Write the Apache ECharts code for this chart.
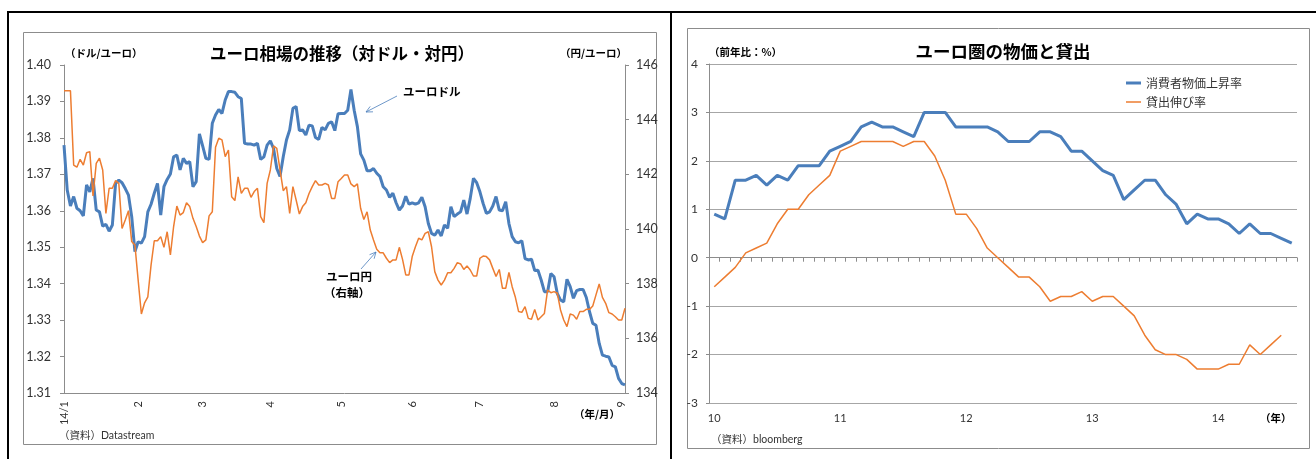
<!DOCTYPE html>
<html>
<head>
<meta charset="utf-8">
<script src="https://cdn.jsdelivr.net/npm/echarts@6/dist/echarts.min.js"></script>
<style>
html, body { margin: 0; padding: 0; background: #ffffff; }
#chart { width: 1316px; height: 459px; }
</style>
</head>
<body>
<div id="chart"></div>
<script>
// ---- Left panel: EUR/USD (left axis) and EUR/JPY (right axis), daily, 2014/1/1 - 2014/9/2
const usdRate = [
  1.3780, 1.3657, 1.3613, 1.3639, 1.3607, 1.3600, 1.3586, 1.3671, 1.3652, 1.3689,
  1.3602, 1.3597, 1.3558, 1.3563, 1.3544, 1.3561, 1.3675, 1.3684, 1.3677, 1.3661,
  1.3643, 1.3584, 1.3488, 1.3515, 1.3511, 1.3529, 1.3597, 1.3618, 1.3648, 1.3675,
  1.3588, 1.3666, 1.3686, 1.3701, 1.3748, 1.3753, 1.3712, 1.3744, 1.3730, 1.3735,
  1.3666, 1.3680, 1.3811, 1.3778, 1.3744, 1.3741, 1.3840, 1.3863, 1.3878, 1.3867,
  1.3904, 1.3927, 1.3927, 1.3925, 1.3913, 1.3908, 1.3785, 1.3783, 1.3783, 1.3780,
  1.3785, 1.3741, 1.3748, 1.3780, 1.3792, 1.3771, 1.3716, 1.3694, 1.3748, 1.3794,
  1.3822, 1.3881, 1.3886, 1.3820, 1.3822, 1.3808, 1.3835, 1.3833, 1.3801, 1.3796,
  1.3829, 1.3822, 1.3840, 1.3844, 1.3820, 1.3866, 1.3867, 1.3867, 1.3876, 1.3933,
  1.3876, 1.3831, 1.3756, 1.3739, 1.3710, 1.3710, 1.3716, 1.3703, 1.3694, 1.3666,
  1.3657, 1.3637, 1.3648, 1.3622, 1.3602, 1.3613, 1.3640, 1.3618, 1.3622, 1.3618,
  1.3622, 1.3637, 1.3611, 1.3565, 1.3538, 1.3533, 1.3547, 1.3531, 1.3561, 1.3552,
  1.3611, 1.3584, 1.3591, 1.3597, 1.3629, 1.3591, 1.3634, 1.3689, 1.3677, 1.3652,
  1.3620, 1.3593, 1.3597, 1.3613, 1.3639, 1.3602, 1.3600, 1.3625, 1.3565, 1.3529,
  1.3515, 1.3512, 1.3518, 1.3469, 1.3465, 1.3467, 1.3436, 1.3437, 1.3410, 1.3378,
  1.3378, 1.3428, 1.3419, 1.3373, 1.3355, 1.3350, 1.3412, 1.3392, 1.3360, 1.3381,
  1.3384, 1.3384, 1.3362, 1.3323, 1.3291, 1.3286, 1.3236, 1.3204, 1.3201, 1.3199,
  1.3176, 1.3172, 1.3140, 1.3126, 1.3122
];
const jpyRate = [
  145.06, 145.06, 145.06, 142.34, 142.26, 142.55, 142.34, 142.79, 142.83, 141.21,
  142.40, 142.59, 142.16, 140.57, 141.49, 141.49, 141.77, 141.67, 140.02, 140.33,
  140.67, 139.54, 139.41, 138.13, 136.89, 137.30, 137.52, 138.68, 139.57, 139.57,
  139.72, 139.33, 139.90, 139.05, 140.09, 140.84, 140.51, 140.60, 140.96, 140.82,
  140.39, 140.09, 139.74, 139.50, 139.60, 140.48, 140.63, 142.99, 143.32, 143.26,
  142.65, 142.89, 141.18, 141.04, 141.91, 141.30, 141.49, 141.49, 141.16, 141.37,
  141.49, 140.45, 140.23, 141.67, 142.16, 143.04, 142.95, 142.16, 141.40, 141.55,
  140.57, 141.55, 141.06, 140.55, 140.82, 140.96, 141.30, 141.55, 141.77, 141.61,
  141.61, 141.67, 141.61, 141.12, 141.12, 141.73, 141.85, 141.98, 141.98, 141.65,
  141.55, 141.65, 140.76, 140.35, 140.63, 139.96, 139.60, 139.26, 139.13, 139.13,
  138.93, 138.77, 138.87, 138.87, 139.33, 138.89, 138.32, 138.32, 138.99, 139.35,
  139.66, 139.60, 139.84, 139.90, 139.35, 138.44, 138.13, 137.95, 138.13, 138.40,
  138.40, 138.56, 138.77, 138.72, 138.52, 138.65, 138.50, 138.28, 138.28, 138.93,
  139.01, 138.99, 138.87, 138.56, 138.26, 138.52, 137.83, 137.83, 138.41, 137.89,
  137.50, 136.98, 136.95, 137.16, 136.73, 136.70, 137.06, 136.67, 136.79, 136.91,
  137.77, 137.67, 137.71, 137.65, 137.04, 136.67, 136.43, 136.89, 136.85, 136.70,
  136.98, 136.98, 137.06, 137.06, 137.18, 137.59, 137.99, 137.50, 137.28, 136.94,
  136.89, 136.79, 136.67, 136.67, 137.10
];
const fxMonthLabels = ['14/1', '2', '3', '4', '5', '6', '7', '8', '9'];

// ---- Right panel: euro area CPI and bank lending, year-on-year %, monthly from 2010/1
const cpiYoY = [
  0.9, 0.8, 1.6, 1.6, 1.7, 1.5, 1.7, 1.6, 1.9, 1.9, 1.9, 2.2,
  2.3, 2.4, 2.7, 2.8, 2.7, 2.7, 2.6, 2.5, 3.0, 3.0, 3.0, 2.7,
  2.7, 2.7, 2.7, 2.6, 2.4, 2.4, 2.4, 2.6, 2.6, 2.5, 2.2, 2.2,
  2.0, 1.8, 1.7, 1.2, 1.4, 1.6, 1.6, 1.3, 1.1, 0.7, 0.9, 0.8,
  0.8, 0.7, 0.5, 0.7, 0.5, 0.5, 0.4, 0.3
];
const loanYoY = [
  -0.6, -0.4, -0.2, 0.1, 0.2, 0.3, 0.7, 1.0, 1.0, 1.3, 1.5, 1.7,
  2.2, 2.3, 2.4, 2.4, 2.4, 2.4, 2.3, 2.4, 2.4, 2.1, 1.6, 0.9,
  0.9, 0.6, 0.2, 0.0, -0.2, -0.4, -0.4, -0.6, -0.9, -0.8, -0.8, -0.7,
  -0.9, -0.8, -0.8, -1.0, -1.2, -1.6, -1.9, -2.0, -2.0, -2.1, -2.3, -2.3,
  -2.3, -2.2, -2.2, -1.8, -2.0, -1.8, -1.6
];
const yearLabels = ['10', '11', '12', '13', '14'];
const firstYear = 2010;
const monthCount = 56;

// Business-day categories for the daily series
const fxDates = [];
const fxMonthStart = [];
(function () {
  const d = new Date(Date.UTC(2014, 0, 1));
  let prevMonth = -1;
  while (fxDates.length < usdRate.length) {
    const w = d.getUTCDay();
    if (w !== 0 && w !== 6) {
      const m = d.getUTCMonth();
      fxDates.push(d.getUTCFullYear() + '-' + String(m + 1).padStart(2, '0') + '-' + String(d.getUTCDate()).padStart(2, '0'));
      fxMonthStart.push(m !== prevMonth);
      prevMonth = m;
    }
    d.setUTCDate(d.getUTCDate() + 1);
  }
})();

// Monthly categories for the right panel
const months = [];
for (let i = 0; i < monthCount; i++) {
  const y = firstYear + Math.floor(i / 12);
  months.push(y + '-' + String(i % 12 + 1).padStart(2, '0'));
}

const FONT = "Lato, 'Noto Sans CJK JP', sans-serif";
const JP = "'Noto Sans CJK JP', sans-serif";
const BLUE = '#4a7ebb';
const ORANGE = '#ed7d31';
const AXIS = '#8c8c8c';
const TXT = '#333333';

function arrow(x1, y1, x2, y2, color) {
  const ang = Math.atan2(y2 - y1, x2 - x1);
  const L = 7, W = 0.45;
  return [
    { type: 'line', shape: { x1, y1, x2, y2 }, style: { stroke: color, lineWidth: 0.8 }, silent: true },
    { type: 'polyline', shape: { points: [
      [x2 - L * Math.cos(ang - W), y2 - L * Math.sin(ang - W)],
      [x2, y2],
      [x2 - L * Math.cos(ang + W), y2 - L * Math.sin(ang + W)]
    ] }, style: { stroke: color, lineWidth: 0.8, fill: null }, silent: true }
  ];
}

function txt(x, y, text, opts) {
  return Object.assign({
    type: 'text', x, y, silent: true,
    style: Object.assign({ text, fontFamily: JP, fontSize: 10.5, fontWeight: 'bold', fill: '#000', textVerticalAlign: 'middle' }, opts || {})
  });
}

const chart = echarts.init(document.getElementById('chart'), null, { renderer: 'canvas' });

chart.setOption({
  animation: false,
  backgroundColor: '#ffffff',
  textStyle: { fontFamily: FONT },
  title: [
    { text: 'ユーロ相場の推移（対ドル・対円）', left: 337, top: 40, textAlign: 'center',
      textStyle: { fontFamily: JP, fontSize: 16.5, fontWeight: 'bold', color: '#000' } },
    { text: 'ユーロ圏の物価と貸出', left: 998, top: 38, textAlign: 'center',
      textStyle: { fontFamily: JP, fontSize: 17.5, fontWeight: 'bold', color: '#000' } }
  ],
  legend: [
    { data: ['消費者物価上昇率'], left: 1121, top: 72, icon: 'rect', itemWidth: 15, itemHeight: 3,
      textStyle: { fontFamily: JP, fontSize: 12, color: TXT }, selectedMode: false },
    { data: ['貸出伸び率'], left: 1121, top: 91, icon: 'rect', itemWidth: 15, itemHeight: 1.5,
      textStyle: { fontFamily: JP, fontSize: 12, color: TXT }, selectedMode: false }
  ],
  grid: [
    { left: 64, right: 691, top: 65, bottom: 66 },
    { left: 709, right: 19, top: 64, bottom: 56 }
  ],
  xAxis: [
    {
      gridIndex: 0, type: 'category', data: fxDates, boundaryGap: false,
      axisLine: { lineStyle: { color: AXIS, width: 1 } },
      axisTick: { show: false },
      axisLabel: {
        interval: (i) => fxMonthStart[i],
        rotate: 90, margin: 8, fontSize: 11, color: TXT, fontFamily: FONT,
        formatter: (v) => fxMonthLabels[parseInt(v.slice(5, 7), 10) - 1]
      },
      splitLine: { show: false }
    },
    {
      gridIndex: 1, type: 'category', data: months, position: 'bottom',
      axisLine: { show: false, onZero: false },
      axisTick: { show: false },
      axisLabel: {
        interval: (i) => i % 12 === 0,
        margin: 10, fontSize: 11, color: TXT, fontFamily: FONT,
        formatter: (v) => yearLabels[parseInt(v.slice(0, 4), 10) - firstYear]
      },
      splitLine: { show: false }
    },
    {
      gridIndex: 1, type: 'category', data: months, position: 'bottom',
      axisLine: { show: true, onZero: true, lineStyle: { color: AXIS, width: 1 } },
      axisTick: { show: true, interval: 0, length: 4, lineStyle: { color: AXIS } },
      axisLabel: { show: false },
      splitLine: { show: false }
    }
  ],
  yAxis: [
    {
      gridIndex: 0, type: 'value', position: 'left', min: 1.31, max: 1.40, interval: 0.01,
      axisLine: { show: true, lineStyle: { color: AXIS } },
      axisTick: { show: true, length: 4, lineStyle: { color: AXIS } },
      axisLabel: { fontSize: 12.5, color: TXT, margin: 13, formatter: (v) => v.toFixed(2) },
      splitLine: { show: false }
    },
    {
      gridIndex: 0, type: 'value', position: 'right', min: 134, max: 146, interval: 2,
      axisLine: { show: true, lineStyle: { color: AXIS } },
      axisTick: { show: true, length: 4, lineStyle: { color: AXIS } },
      axisLabel: { fontSize: 12.5, color: TXT, margin: 11 },
      splitLine: { show: false }
    },
    {
      gridIndex: 1, type: 'value', min: -3, max: 4, interval: 1,
      axisLine: { show: true, lineStyle: { color: AXIS } },
      axisTick: { show: true, length: 3, lineStyle: { color: AXIS } },
      axisLabel: { fontSize: 12, color: TXT, margin: 11 },
      splitLine: { show: true, lineStyle: { color: '#a6a6a6', width: 1 } }
    }
  ],
  series: [
    { name: 'ユーロドル', type: 'line', xAxisIndex: 0, yAxisIndex: 0, data: usdRate,
      showSymbol: false, lineStyle: { color: BLUE, width: 3 }, itemStyle: { color: BLUE }, z: 2 },
    { name: 'ユーロ円', type: 'line', xAxisIndex: 0, yAxisIndex: 1, data: jpyRate,
      showSymbol: false, lineStyle: { color: ORANGE, width: 1.5 }, itemStyle: { color: ORANGE }, z: 3 },
    { name: '消費者物価上昇率', type: 'line', xAxisIndex: 1, yAxisIndex: 2, data: cpiYoY,
      showSymbol: false, lineStyle: { color: BLUE, width: 3 }, itemStyle: { color: BLUE }, z: 2 },
    { name: '貸出伸び率', type: 'line', xAxisIndex: 1, yAxisIndex: 2, data: loanYoY,
      showSymbol: false, lineStyle: { color: ORANGE, width: 1.5 }, itemStyle: { color: ORANGE }, z: 3 }
  ],
  graphic: [].concat(
    [
      // panel frames
      { type: 'line', shape: { x1: 7, y1: 12, x2: 1316, y2: 12 }, style: { stroke: '#000', lineWidth: 2 }, silent: true },
      { type: 'line', shape: { x1: 8, y1: 12, x2: 8, y2: 459 }, style: { stroke: '#000', lineWidth: 2 }, silent: true },
      { type: 'line', shape: { x1: 671, y1: 12, x2: 671, y2: 459 }, style: { stroke: '#000', lineWidth: 2 }, silent: true },
      { type: 'rect', shape: { x: 23.5, y: 32.5, width: 633, height: 412 }, style: { stroke: '#8c8c8c', lineWidth: 1, fill: null }, silent: true },
      { type: 'rect', shape: { x: 687.5, y: 28.5, width: 622, height: 420 }, style: { stroke: '#8c8c8c', lineWidth: 1, fill: null }, silent: true },
      // axis units, notes and sources
      txt(65, 53, '（ドル/ユーロ）'),
      txt(560, 53, '（円/ユーロ）'),
      txt(709, 52, '（前年比：%）'),
      txt(574, 414, '（年/月）'),
      txt(1260, 418, '（年）'),
      txt(59, 436, '（資料）Datastream', { fontFamily: FONT, fontWeight: 'normal', fill: TXT, fontSize: 10.5 }),
      txt(711, 440, '（資料）bloomberg', { fontFamily: FONT, fontWeight: 'normal', fill: TXT, fontSize: 10.5 }),
      txt(403, 92, 'ユーロドル', { fontSize: 11.5 }),
      txt(349, 277, 'ユーロ円', { fontSize: 11.5, textAlign: 'center' }),
      txt(347, 293, '（右軸）', { fontSize: 11.5, textAlign: 'center' })
    ],
    arrow(397, 96, 366, 112, BLUE),
    arrow(361, 269, 376, 252, BLUE)
  )
});
</script>
</body>
</html>
